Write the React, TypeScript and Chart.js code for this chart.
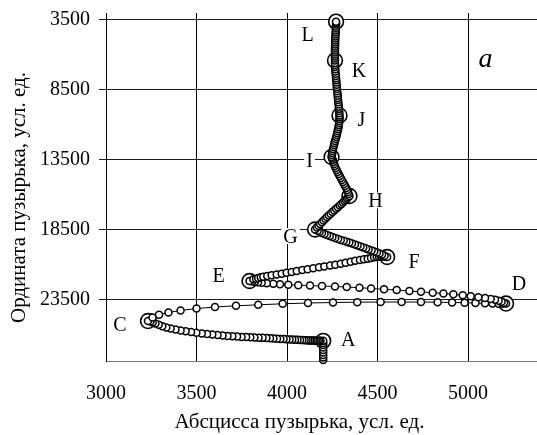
import { useEffect, useRef } from 'react';
import { Chart, registerables } from 'chart.js';

Chart.register(...registerables);

// ---- axis ticks ----
const xTickValues = [3000, 3500, 4000, 4500, 5000];
const yTickValues = [3500, 8500, 13500, 18500, 23500];
const xTitle = 'Абсцисса пузырька, усл. ед.';
const yTitle = 'Ордината пузырька, усл. ед.';
const panelLetter = 'a';

// ---- bubble trajectory, segment by segment (x, y in conventional units) ----
const riseToA: [number, number][] = [
  [4200, 27830], [4200, 27650], [4200, 27470], [4200, 27290], [4200, 27110],
  [4200, 26930], [4200, 26750], [4200, 26610], [4200, 26460],
];
const pathAtoC: [number, number][] = [
  [4185, 26450], [4177, 26450], [4169, 26445], [4160, 26445], [4152, 26440],
  [4144, 26440], [4135, 26430], [4127, 26430], [4118, 26425], [4108, 26420],
  [4097, 26410], [4085, 26405], [4072, 26395], [4058, 26380], [4044, 26375],
  [4029, 26360], [4014, 26355], [3997, 26340], [3981, 26325], [3963, 26320],
  [3945, 26305], [3925, 26290], [3906, 26275], [3886, 26260], [3865, 26245],
  [3843, 26230], [3820, 26220], [3797, 26205], [3774, 26190], [3749, 26175],
  [3724, 26155], [3698, 26130], [3671, 26105], [3644, 26075], [3616, 26040],
  [3587, 26005], [3558, 25965], [3529, 25925], [3499, 25875], [3470, 25825],
  [3440, 25775], [3412, 25715], [3384, 25650], [3357, 25580], [3333, 25500],
  [3311, 25410], [3291, 25310], [3273, 25215], [3258, 25140], [3246, 25080],
  [3232, 25040],
];
const pathCtoD: [number, number][] = [
  [3257, 24790], [3293, 24585], [3345, 24430], [3412, 24285], [3500, 24150],
  [3602, 24035], [3718, 23950], [3841, 23880], [3976, 23805], [4116, 23750],
  [4254, 23715], [4388, 23690], [4517, 23680], [4633, 23680], [4740, 23680],
  [4832, 23690], [4912, 23715], [4981, 23730], [5041, 23750], [5094, 23765],
  [5135, 23785], [5169, 23800], [5191, 23805], [5210, 23790],
];
const pathDtoE: [number, number][] = [
  [5199, 23735], [5185, 23665], [5169, 23590], [5149, 23520], [5125, 23465],
  [5094, 23390], [5057, 23335], [5015, 23270], [4971, 23200], [4919, 23125],
  [4864, 23070], [4805, 23015], [4740, 22950], [4676, 22890], [4606, 22820],
  [4536, 22770], [4464, 22710], [4400, 22655], [4330, 22605], [4265, 22570],
  [4193, 22535], [4127, 22505], [4062, 22475], [4007, 22445], [3961, 22410],
  [3924, 22375], [3888, 22340], [3860, 22305], [3840, 22270], [3823, 22235],
  [3809, 22205], [3793, 22175],
];
const pathEtoF: [number, number][] = [
  [3814, 22055], [3829, 22010], [3841, 21960], [3855, 21910], [3869, 21870],
  [3891, 21820], [3915, 21770], [3943, 21710], [3971, 21655], [3998, 21590],
  [4026, 21530], [4054, 21460], [4085, 21390], [4114, 21330], [4145, 21265],
  [4177, 21195], [4206, 21140], [4238, 21075], [4267, 21010], [4297, 20940],
  [4324, 20865], [4352, 20795], [4377, 20730], [4403, 20675], [4425, 20625],
  [4446, 20575], [4464, 20530], [4481, 20485], [4496, 20460], [4508, 20435],
  [4519, 20420], [4529, 20430], [4539, 20435], [4553, 20460],
];
const pathFtoG: [number, number][] = [
  [4539, 20365], [4525, 20285], [4511, 20210], [4497, 20135], [4482, 20065],
  [4467, 19985], [4451, 19915], [4437, 19845], [4421, 19770], [4406, 19700],
  [4390, 19630], [4375, 19565], [4359, 19500], [4344, 19430], [4328, 19365],
  [4313, 19300], [4297, 19235], [4282, 19165], [4266, 19100], [4251, 19025],
  [4236, 18955], [4221, 18885], [4207, 18815], [4193, 18735], [4180, 18655],
  [4169, 18575], [4155, 18490],
];
const pathGtoH: [number, number][] = [
  [4165, 18355], [4174, 18225], [4183, 18095], [4193, 17970], [4202, 17845],
  [4212, 17725], [4221, 17605], [4231, 17480], [4241, 17360], [4251, 17240],
  [4261, 17125], [4271, 17010], [4281, 16895], [4291, 16780], [4300, 16675],
  [4309, 16565], [4317, 16460], [4325, 16360], [4332, 16265], [4338, 16180],
  [4345, 16095],
];
const pathHtoI: [number, number][] = [
  [4341, 15950], [4337, 15805], [4332, 15665], [4327, 15520], [4321, 15380],
  [4315, 15235], [4309, 15090], [4303, 14950], [4297, 14805], [4291, 14665],
  [4285, 14520], [4279, 14375], [4274, 14235], [4269, 14090], [4264, 13945],
  [4260, 13805], [4256, 13660], [4253, 13520], [4249, 13410], [4246, 13305],
];
const pathItoJ: [number, number][] = [
  [4248, 13160], [4250, 13015], [4252, 12875], [4254, 12730], [4257, 12590],
  [4260, 12445], [4262, 12300], [4265, 12160], [4269, 12015], [4272, 11870],
  [4275, 11730], [4277, 11585], [4280, 11445], [4282, 11300], [4285, 11155],
  [4286, 11015], [4288, 10870], [4289, 10730], [4290, 10585], [4290, 10465],
  [4290, 10335],
];
const pathJtoK: [number, number][] = [
  [4289, 10175], [4288, 10020], [4287, 9860], [4286, 9705], [4285, 9545],
  [4283, 9390], [4282, 9230], [4281, 9075], [4280, 8915], [4279, 8760],
  [4277, 8600], [4276, 8445], [4275, 8290], [4274, 8130], [4273, 7975],
  [4272, 7815], [4271, 7660], [4270, 7500], [4269, 7345], [4267, 7185],
  [4267, 7030], [4266, 6870], [4266, 6715], [4265, 6580], [4265, 6400],
];
const pathKtoL: [number, number][] = [
  [4265, 6255], [4265, 6110], [4265, 5970], [4265, 5825], [4265, 5685],
  [4265, 5540], [4265, 5395], [4266, 5255], [4266, 5110], [4266, 4970],
  [4267, 4825], [4267, 4680], [4268, 4540], [4269, 4395], [4269, 4250],
  [4270, 4110], [4270, 3965], [4271, 3825], [4271, 3715], [4271, 3620],
];

// ---- marked (labelled) positions ----
const markerNames = ['A', 'C', 'D', 'E', 'F', 'G', 'H', 'I', 'J', 'K', 'L'];
const markerX = [4200, 3232, 5210, 3793, 4553, 4155, 4345, 4246, 4290, 4265, 4271];
const markerY = [26460, 25040, 23790, 22175, 20460, 18490, 16095, 13305, 10335, 6400, 3620];

// label placement relative to each marker (pixels)
const labelOffsets: [number, number][] = [
  [25, -2], [-28, 3.5], [13, -20], [-31, -6], [27, 4.5], [-24.5, 6.5],
  [26, 4.5], [-22, 3.3], [22, 3.3], [24, 10], [-28.5, 13],
];

const FONT = '"Liberation Serif", "Times New Roman", serif';

const annotate = {
  id: 'annotate',
  afterDatasetsDraw(chart: any) {
    const ctx = chart.ctx as CanvasRenderingContext2D;
    const xs = chart.scales.x;
    const ys = chart.scales.y;
    const area = chart.chartArea;
    ctx.save();
    ctx.font = `20px ${FONT}`;
    ctx.textAlign = 'center';
    ctx.textBaseline = 'alphabetic';
    markerNames.forEach((name, i) => {
      const px = xs.getPixelForValue(markerX[i]) + labelOffsets[i][0];
      const py = ys.getPixelForValue(markerY[i]) + labelOffsets[i][1];
      const w = ctx.measureText(name).width;
      ctx.fillStyle = '#fff';
      ctx.fillRect(px - w / 2 - 2, py - 8, w + 4, 16);
      ctx.fillStyle = '#000';
      ctx.fillText(name, px, py + 6.8);
    });
    ctx.font = `italic 28px ${FONT}`;
    ctx.fillStyle = '#000';
    ctx.fillText(panelLetter, area.right - 51.5, area.top + 54);
    ctx.restore();
  },
  afterDraw(chart: any) {
    const ctx = chart.ctx as CanvasRenderingContext2D;
    const area = chart.chartArea;
    ctx.save();
    ctx.fillStyle = '#000';
    ctx.font = `21px ${FONT}`;
    ctx.textAlign = 'center';
    ctx.textBaseline = 'alphabetic';
    ctx.fillText(xTitle, area.left + 193.5, chart.height - 7);
    ctx.translate(25, 197.5);
    ctx.rotate(-Math.PI / 2);
    ctx.fillText(yTitle, 0, 0);
    ctx.restore();
  },
};

const zeroPad = (s: any) => {
  s.paddingLeft = 0;
  s.paddingRight = 0;
  s.paddingTop = 0;
  s.paddingBottom = 0;
};

export default function App() {
  const ref = useRef<HTMLCanvasElement>(null);
  useEffect(() => {
    document.body.style.margin = '0';
    document.body.style.overflow = 'hidden';
    const canvas = ref.current;
    if (!canvas) return;
    const trajectory = [
      ...riseToA, ...pathAtoC, ...pathCtoD, ...pathDtoE, ...pathEtoF, ...pathFtoG,
      ...pathGtoH, ...pathHtoI, ...pathItoJ, ...pathJtoK, ...pathKtoL,
    ].map(([x, y]) => ({ x, y }));
    const markers = markerNames.map((_, i) => ({ x: markerX[i], y: markerY[i] }));

    const chart = new Chart(canvas, {
      type: 'scatter',
      data: {
        datasets: [
          {
            data: trajectory,
            showLine: true,
            borderColor: '#000',
            borderWidth: 1,
            tension: 0,
            pointRadius: 3.5,
            pointBackgroundColor: '#fff',
            pointBorderColor: '#000',
            pointBorderWidth: 1.5,
            clip: false as any,
          },
          {
            data: markers,
            showLine: false,
            pointRadius: 7.4,
            pointBackgroundColor: '#fff',
            pointBorderColor: '#000',
            pointBorderWidth: 1.6,
            clip: false as any,
          },
        ],
      },
      options: {
        responsive: false,
        animation: false,
        events: [],
        layout: { autoPadding: false, padding: { top: 13, right: 0, left: 0, bottom: 0 } },
        plugins: { legend: { display: false }, tooltip: { enabled: false } },
        scales: {
          x: {
            type: 'linear',
            min: 3000,
            max: 5381,
            afterBuildTicks: (s: any) => {
              s.ticks = xTickValues.map((v) => ({ value: v }));
            },
            afterFit: (s: any) => {
              s.height = 74;
              zeroPad(s);
            },
            grid: { color: '#000', lineWidth: 1, drawTicks: false },
            border: { color: '#808080', width: 1 },
            ticks: {
              padding: 21,
              color: '#000',
              font: { family: FONT, size: 20 },
              maxRotation: 0,
              callback: (v: any) => String(v),
            },
          },
          y: {
            type: 'linear',
            reverse: true,
            min: 3000,
            max: 27900,
            afterBuildTicks: (s: any) => {
              s.ticks = yTickValues.map((v) => ({ value: v }));
            },
            afterFit: (s: any) => {
              s.width = 106;
              zeroPad(s);
            },
            grid: { color: '#1a1a1a', lineWidth: 1, tickLength: 7 },
            border: { color: '#000', width: 1 },
            ticks: {
              padding: 9,
              color: '#000',
              font: { family: FONT, size: 20 },
              callback: (v: any) => String(v),
            },
          },
        },
      },
      plugins: [annotate],
    });
    return () => chart.destroy();
  }, []);

  return (
    <div style={{ width: 537, height: 435 }}>
      <canvas ref={ref} width={537} height={435} style={{ display: 'block' }} />
    </div>
  );
}
